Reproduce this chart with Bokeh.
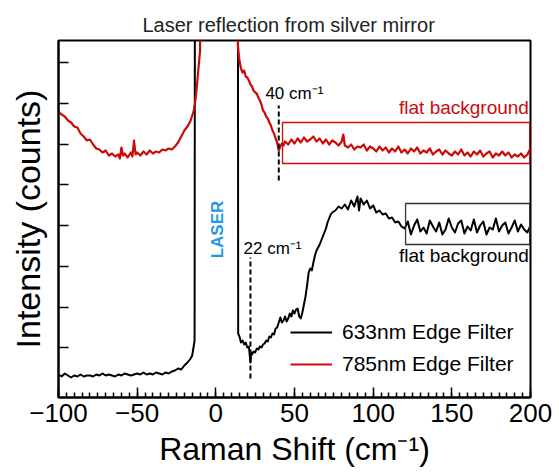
from math import pi
from bokeh.plotting import figure
from bokeh.models import (Range1d, FixedTicker, Label, Legend, LegendItem,
                          CustomJSTickFormatter)
from bokeh.embed import file_html
from bokeh.resources import INLINE

FONT = "Liberation Sans"
RED = "#cc0a0a"
BLUE = "#1f9ae0"

# 633 nm edge filter (black)
shift_633 = [
    -100, -98, -96, -94, -92, -90, -88, -86, -84, -82,
    -80, -78, -76, -74, -72, -70, -68, -66, -64, -62,
    -60, -58, -56, -54, -52, -50, -48, -46, -44, -42,
    -40, -38, -36, -34, -32, -30, -28, -26, -24, -22,
    -20, -18, -16, -15, -14, -13.5, -13, 13.8, 14.2, 15,
    16, 17, 18, 19, 20, 21, 22, 22.5, 23, 24,
    25, 26, 27, 28, 29, 30, 31, 32, 33, 34,
    35, 36, 37, 38, 39, 40, 41, 42, 43, 44,
    45, 46, 47, 48, 49, 50, 51, 52, 53, 54,
    55, 56, 57, 58, 59, 60, 61, 62, 63, 64,
    66, 67, 68, 70, 71, 72, 73, 74, 76, 78,
    80, 82, 84, 86, 88, 90, 91, 92, 94, 96,
    98, 100, 102, 104, 106, 108, 110, 112, 114, 116,
    118, 120, 122, 124, 126, 128, 130, 132, 134, 136,
    138, 140, 142, 144, 146, 148, 150, 152, 154, 156,
    158, 160, 162, 164, 166, 168, 170, 172, 174, 176,
    178, 180, 182, 184, 186, 188, 190, 192, 194, 196,
    198, 200,
]
intensity_633 = [
    23, 21, 24, 22, 20, 22, 21, 23, 21, 22,
    22, 21, 23, 22, 24, 22, 23, 22, 21, 23,
    22, 24, 23, 22, 23, 24, 23, 25, 23, 24,
    23, 25, 24, 23, 25, 24, 26, 27, 29, 28,
    32, 35, 39, 42, 52, 57, 1000, 1000, 64, 61,
    55, 57, 53, 55, 50, 51, 35, 45, 43, 46,
    45, 49, 48, 51, 50, 53, 54, 57, 56, 61,
    60, 64, 63, 69, 70, 75, 80, 75, 77, 81,
    76, 79, 84, 81, 87, 84, 88, 89, 81, 79,
    85, 93, 101, 112, 125, 129, 127, 135, 142, 147,
    153, 157, 161, 169, 175, 179, 183, 185, 187, 191,
    189, 193, 188, 197, 191, 201, 187, 199, 193, 197,
    189, 192, 185, 187, 183, 184, 179, 180, 175, 176,
    171, 169, 176, 163, 172, 178, 166, 170, 164, 177,
    171, 166, 175, 163, 168, 179, 170, 165, 174, 177,
    164, 171, 167, 178, 165, 172, 176, 163, 170, 168,
    179, 166, 172, 175, 164, 170, 177, 166, 173, 168,
    165, 172,
]

# 785 nm edge filter (red)
shift_785 = [
    -100, -99, -98, -96, -94, -92, -90, -88, -86, -84,
    -82, -80, -78, -76, -74, -72, -70, -68, -66, -64,
    -62, -61, -60, -59, -58, -56, -54, -53, -52, -51,
    -50, -48, -46, -44, -42, -40, -38, -36, -34, -32,
    -30, -28, -26, -24, -22, -20, -18, -16, -14, -13,
    -12, -11, -10, -9.5, 13.6, 14, 15, 16, 17, 18,
    19, 20, 21, 22, 23, 24, 25, 26, 27, 28,
    29, 30, 31, 32, 33, 34, 35, 36, 37, 38,
    39, 40, 41, 42, 43, 44, 46, 48, 50, 52,
    54, 56, 58, 60, 62, 64, 66, 68, 70, 72,
    74, 76, 78, 80, 81, 82, 84, 86, 88, 90,
    92, 94, 96, 98, 100, 102, 104, 106, 108, 110,
    112, 114, 116, 118, 120, 122, 124, 126, 128, 130,
    132, 134, 136, 138, 140, 142, 144, 146, 148, 150,
    152, 154, 156, 158, 160, 162, 164, 166, 168, 170,
    172, 174, 176, 178, 180, 182, 184, 186, 188, 190,
    192, 194, 196, 198, 199, 200,
]
intensity_785 = [
    287, 284, 283, 281, 277, 275, 271, 270, 264, 261,
    257, 258, 253, 249, 248, 245, 247, 242, 244, 241,
    243, 239, 250, 242, 244, 240, 245, 241, 257, 243,
    245, 242, 246, 243, 247, 244, 246, 245, 248, 247,
    249, 248, 251, 255, 261, 267, 271, 277, 287, 297,
    312, 330, 347, 1000, 1000, 352, 337, 329, 325, 327,
    321, 320, 317, 313, 311, 307, 305, 304, 300, 297,
    293, 287, 285, 281, 279, 275, 272, 267, 264, 259,
    255, 247, 251, 254, 252, 256, 253, 258, 254, 259,
    255, 260, 256, 258, 261, 256, 259, 254, 258, 253,
    257, 255, 252, 256, 263, 252, 250, 253, 248, 251,
    250, 253, 247, 251, 249, 246, 251, 247, 250, 245,
    249, 246, 251, 245, 248, 244, 249, 246, 250, 244,
    247, 245, 249, 243, 246, 248, 243, 247, 244, 242,
    246, 243, 248, 242, 245, 241, 246, 243, 247, 241,
    244, 246, 240, 244, 242, 246, 242, 245, 240, 243,
    241, 244, 240, 243, 246, 249,
]

# annotation marks
cutoff_shift = [40, 22]
cutoff_top = [292, 140]
cutoff_bottom = [217, 19]
cutoff_labels = ["40 cm⁻¹", "22 cm⁻¹"]

box_left = [42.4, 120.6]
box_right = [199.5, 199.5]
box_bottom = [234, 153]
box_top = [275, 194]
box_colors = [RED, "#333333"]

x_ticks = [-100, -50, 0, 50, 100, 150, 200]
x_minor_ticks = list(range(-100, 201, 5))
x_tick_labels = {-100: "−100", -50: "−50", 0: "0", 50: "50",
                 100: "100", 150: "150", 200: "200"}
y_ticks = [50, 90, 131, 172, 213, 253, 294, 335]

p = figure(width=559, height=476, x_range=Range1d(-100, 200),
           y_range=Range1d(0, 357), output_backend="svg",
           toolbar_location=None, min_border_left=58, min_border_right=29,
           min_border_top=40, min_border_bottom=79)
p.grid.visible = False
p.outline_line_color = "black"
p.outline_line_width = 2
p.background_fill_color = "white"
p.border_fill_color = "white"

p.title.text = "Laser reflection from silver mirror"
p.title.text_font = FONT
p.title.text_font_size = "20px"
p.title.text_font_style = "normal"
p.title.align = "left"
p.title.offset = 84
p.title.text_color = "#222222"

xa = p.xaxis[0]
xa.ticker = FixedTicker(ticks=x_ticks, minor_ticks=x_minor_ticks)
xa.major_label_overrides = x_tick_labels
xa.major_tick_in = 10
xa.major_tick_out = 0
xa.minor_tick_in = 5
xa.minor_tick_out = 0
xa.axis_line_width = 2
xa.major_tick_line_width = 1.5
xa.minor_tick_line_width = 1.5
xa.major_label_text_font = FONT
xa.major_label_text_font_size = "26px"
xa.major_label_text_color = "black"
xa.major_label_standoff = 6
xa.axis_label = "Raman Shift (cm⁻¹)"
xa.axis_label_text_font = FONT
xa.axis_label_text_font_size = "32px"
xa.axis_label_text_font_style = "normal"
xa.axis_label_text_color = "black"
xa.axis_label_standoff = 6

ya = p.yaxis[0]
ya.ticker = FixedTicker(ticks=y_ticks)
ya.formatter = CustomJSTickFormatter(code="return ''")
ya.major_tick_in = 10
ya.major_tick_out = 0
ya.minor_tick_in = 0
ya.minor_tick_out = 0
ya.axis_line_width = 2
ya.major_tick_line_width = 1.5
ya.major_label_standoff = 0
ya.axis_label = "Intensity (counts)"
ya.axis_label_text_font = FONT
ya.axis_label_text_font_size = "34px"
ya.axis_label_text_font_style = "normal"
ya.axis_label_text_color = "black"
ya.axis_label_standoff = 12

r_black = p.line(shift_633, intensity_633, line_color="black", line_width=2,
                 line_join="round")
r_red = p.line(shift_785, intensity_785, line_color=RED, line_width=2.2,
               line_join="round")

p.segment(x0=cutoff_shift, y0=cutoff_bottom, x1=cutoff_shift, y1=cutoff_top,
          line_color="black", line_width=2, line_dash="5 3")
p.quad(left=box_left, right=box_right, bottom=box_bottom, top=box_top,
       fill_color=None, line_color=box_colors, line_width=1.3)

p.add_layout(Label(x=31.5, y=304, text=cutoff_labels[0], text_font=FONT,
                   text_font_size="17px", text_align="left",
                   text_baseline="middle", text_color="black"))
p.add_layout(Label(x=17.6, y=149, text=cutoff_labels[1], text_font=FONT,
                   text_font_size="17px", text_align="left",
                   text_baseline="middle", text_color="black"))
p.add_layout(Label(x=0.9, y=168, text="LASER", angle=pi / 2, text_font=FONT,
                   text_font_size="17px", text_font_style="bold",
                   text_align="center", text_baseline="middle",
                   text_color=BLUE))
p.add_layout(Label(x=199, y=290, text="flat background", text_font=FONT,
                   text_font_size="19px", text_align="right",
                   text_baseline="middle", text_color=RED))
p.add_layout(Label(x=199, y=142, text="flat background", text_font=FONT,
                   text_font_size="19px", text_align="right",
                   text_baseline="middle", text_color="black"))

legend = Legend(items=[LegendItem(label="633nm Edge Filter", renderers=[r_black]),
                       LegendItem(label="785nm Edge Filter", renderers=[r_red])],
                location=(232, 21), border_line_color=None,
                background_fill_alpha=0, padding=0, margin=0,
                glyph_width=42, glyph_height=20, label_height=20,
                label_standoff=10, spacing=8, label_text_font=FONT,
                label_text_font_size="21px", label_text_color="black")
p.add_layout(legend)

open("out.html", "w").write(file_html(p, INLINE))
